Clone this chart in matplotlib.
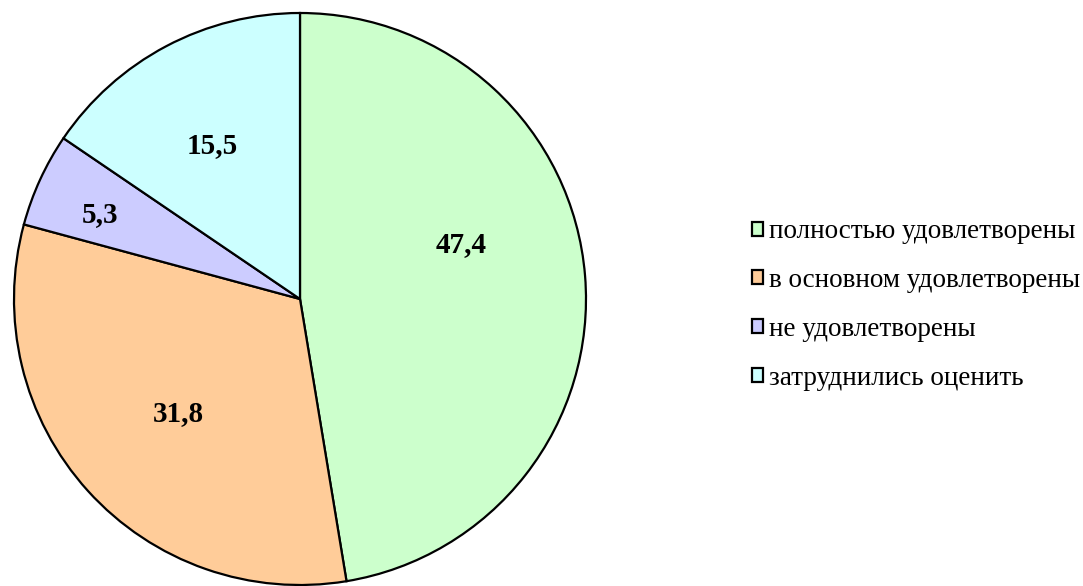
import matplotlib
matplotlib.use("Agg")
import matplotlib.pyplot as plt
from matplotlib.patches import Patch

categories = ["полностью удовлетворены", "в основном удовлетворены", "не удовлетворены", "затруднились оценить"]
values = [47.4, 31.8, 5.3, 15.5]
value_labels = ["47,4", "31,8", "5,3", "15,5"]
colors = ["#CCFFCC", "#FFCC99", "#CCCCFF", "#CCFFFF"]

label_pos = [(0.563, 0.189), (-0.427, -0.399), (-0.699, 0.294), (-0.308, 0.538)]

plt.rcParams['font.family'] = ['Liberation Serif', 'DejaVu Serif']

fig = plt.figure(figsize=(10.83, 5.86), dpi=100)
W, H = 1083, 586
cx, cy, R = 300, 299, 286
ax = fig.add_axes([(cx - R) / W, (H - cy - R) / H, 2 * R / W, 2 * R / H])
wedges, _ = ax.pie(values, colors=colors, startangle=90, counterclock=False,
                   wedgeprops=dict(edgecolor="black", linewidth=1.6), radius=1)
ax.set_xlim(-1, 1)
ax.set_ylim(-1, 1)
ax.set_aspect('equal')
ax.axis('off')

for (x, y), t in zip(label_pos, value_labels):
    ax.text(x, y, t, ha='center', va='center', fontsize=21, fontweight='bold')

handles = [Patch(facecolor=c, edgecolor='black', linewidth=1.6) for c in colors]
leg = fig.legend(handles, categories, loc='center left', bbox_to_anchor=(752 / W, 1 - 305 / H),
                 frameon=False, fontsize=19.5, handlelength=0.42, handleheight=0.42,
                 handletextpad=0.22, labelspacing=0.88, borderpad=0, borderaxespad=0)

fig.savefig("out.png", dpi=100)
